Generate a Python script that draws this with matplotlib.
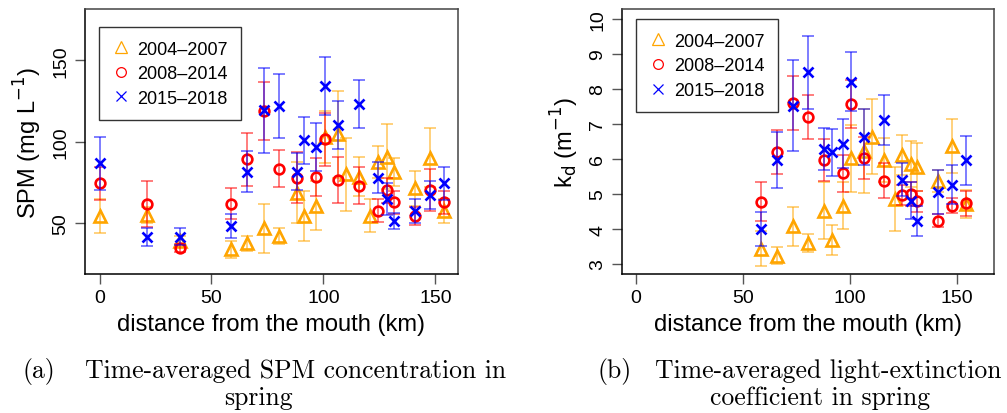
import numpy as np
import matplotlib
matplotlib.use("Agg")
import matplotlib.pyplot as plt
from matplotlib.lines import Line2D
from matplotlib.colors import to_rgba

plt.rcParams['font.family'] = ['Liberation Sans', 'DejaVu Sans']

nan = np.nan
# station distance from the mouth (km)
dist = [0, 21, 36, 58.5, 66, 73.3, 80.3, 88, 91.5, 96.5, 100.5, 106.5,
        110.3, 116, 121, 124.2, 128.5, 131.5, 141, 147.8, 154]

labels = ["2004–2007", "2008–2014", "2015–2018"]

# SPM (mg/L) mean and sd
spm_0407 = [54.5, 55.1, 38.8, 34.0, 37.5, 46.7, 42.2, 68.8, 54.5, 60.6, 103, 104.6,
            80.1, 78.4, 54.5, 87.6, 90.9, 81.5, 71.3, 90.3, 57.6]
spm_0407_sd = [10.5, 5, 3, 5.3, 4.6, 15, 5, 19, 15.5, 15, 16, 26.6,
               22.5, 12, 10.2, 10, 20.2, 8.5, 10.5, 18, 7.5]
spm_0814 = [74.5, 61.7, 34.5, 61.9, 89.3, 118.9, 83.5, 78.0, nan, 78.4, 101.5, 76.4,
            nan, 72.9, nan, 57.6, 70.2, 62.7, 54.5, 70.4, 62.7]
spm_0814_sd = [10, 14, 2.5, 9.5, 16.3, 17.9, 11.4, 15.5, nan, 11.5, 16.5, 14.3,
               nan, 11.3, nan, 7, 7.7, 7, 5.5, 13, 7]
spm_1518 = [86.8, 41.6, 41.7, 48.4, 81.7, 119.3, 122, 81.7, 100.9, 97.0, 134.2, 110.3,
            nan, 123, nan, 78, 64.7, 51.4, 57.6, 67.2, 74.5]
spm_1518_sd = [16.4, 5.5, 5, 7.4, 12.8, 26, 19.4, 11.2, 14.6, 14.8, 17.7, 14.8,
               nan, 14.8, nan, 9.7, 9.7, 5, 7.5, 8.5, 10]

# light-extinction coefficient kd (1/m) mean and sd
kd_0407 = [nan, nan, nan, 3.43, 3.24, 4.08, 3.6, 4.52, 3.69, 4.67, 6.02, 6.24,
           6.64, 5.97, 4.86, 6.11, 5.86, 5.78, 5.38, 6.36, 4.71]
kd_0407_sd = [nan, nan, nan, 0.5, 0.25, 0.56, 0.27, 0.81, 0.43, 0.68, 0.95, 1.2,
              1.08, 0.62, 0.92, 0.58, 0.65, 0.68, 0.32, 0.77, 0.4]
kd_0814 = [nan, nan, nan, 4.78, 6.21, 7.6, 7.19, 5.97, nan, 5.59, 7.57, 6.02,
           nan, 5.38, nan, 4.97, 5.0, 4.79, 4.24, 4.67, 4.73]
kd_0814_sd = [nan, nan, nan, 0.55, 0.63, 0.78, 0.63, 0.6, nan, 0.52, 0.68, 0.6,
              nan, 0.5, nan, 0.28, 0.33, 0.3, 0.19, 0.22, 0.35]
kd_1518 = [nan, nan, nan, 4.0, 5.98, 7.52, 8.48, 6.29, 6.19, 6.43, 8.21, 6.62,
           nan, 7.11, nan, 5.41, 4.81, 4.23, 5.05, 5.27, 5.97]
kd_1518_sd = [nan, nan, nan, 0.48, 0.8, 1.3, 1.05, 0.6, 0.67, 0.7, 0.84, 0.8,
              nan, 0.72, nan, 0.47, 0.53, 0.42, 0.63, 0.55, 0.7]

colors = ["orange", "red", "blue"]
markers = ["^", "o", "x"]
msizes = [9, 7, 7]

fig = plt.figure(figsize=(10.07, 4.14), dpi=100)
ax1 = fig.add_axes([0.0844, 0.3357, 0.3704, 0.640])
ax2 = fig.add_axes([0.6174, 0.3357, 0.3697, 0.640])


def draw(ax, series, sds):
    for y, e, c, m, s in zip(series, sds, colors, markers, msizes):
        ax.errorbar(dist, y, yerr=e, fmt="none", ecolor=to_rgba(c, 0.55),
                    elinewidth=1.3, capsize=4.5, capthick=1.3)
        ax.plot(dist, y, linestyle="none", marker=m, ms=s, mfc="none",
                mec=c, mew=1.9)
    handles = [Line2D([], [], linestyle="none", marker=m, ms=s, mfc="none",
                      mec=c, mew=0.9) for c, m, s in zip(colors, markers, msizes)]
    return handles


h = draw(ax1, [spm_0407, spm_0814, spm_1518], [spm_0407_sd, spm_0814_sd, spm_1518_sd])
draw(ax2, [kd_0407, kd_0814, kd_1518], [kd_0407_sd, kd_0814_sd, kd_1518_sd])

ax1.set_xlim(-6.5, 160.1)
ax1.set_ylim(18.7, 181.6)
ax1.set_xticks([0, 50, 100, 150])
ax1.set_yticks([50, 100, 150])
ax2.set_xlim(-6.7, 167.3)
ax2.set_ylim(2.714, 10.286)
ax2.set_xticks([0, 50, 100, 150])
ax2.set_yticks(range(3, 11))

ax1.set_ylabel("SPM (mg L$^{-1}$)", fontsize=17, labelpad=6)
ax2.set_ylabel("k$_{\\rm d}$ (m$^{-1}$)", fontsize=17, labelpad=6)

for ax, top in [(ax1, 0.932), (ax2, 0.962)]:
    ax.set_xlabel("distance from the mouth (km)", fontsize=17, labelpad=5)
    ax.tick_params(direction="out", length=7, width=1, labelsize=14, pad=4,
                   color="#555555")
    ax.tick_params(axis="y", labelrotation=90)
    for t in ax.get_yticklabels():
        t.set_va("center")
    for sp in ["top", "right"]:
        ax.spines[sp].set_color("#444444")
    for sp in ax.spines.values():
        sp.set_linewidth(1.1)
    leg = ax.legend(h, labels, loc="upper left", bbox_to_anchor=(0.038, top),
                    fontsize=13, fancybox=False, edgecolor="#333333",
                    framealpha=1, handletextpad=0.45, borderpad=0.75,
                    labelspacing=0.42, handlelength=0.9, borderaxespad=0)
    leg.get_frame().set_linewidth(1)

cap = dict(family="cmr10", fontsize=18.5)
fig.text(0.022, 0.087, "(a)", **cap)
fig.text(0.0844, 0.087, "Time-averaged SPM concentration in", **cap)
fig.text(0.257, 0.022, "spring", ha="center", **cap)
fig.text(0.593, 0.087, "(b)", **cap)
fig.text(0.650, 0.087, "Time-averaged light-extinction", **cap)
fig.text(0.814, 0.022, "coefficient in spring", ha="center", **cap)

fig.savefig("out.png", dpi=100)
